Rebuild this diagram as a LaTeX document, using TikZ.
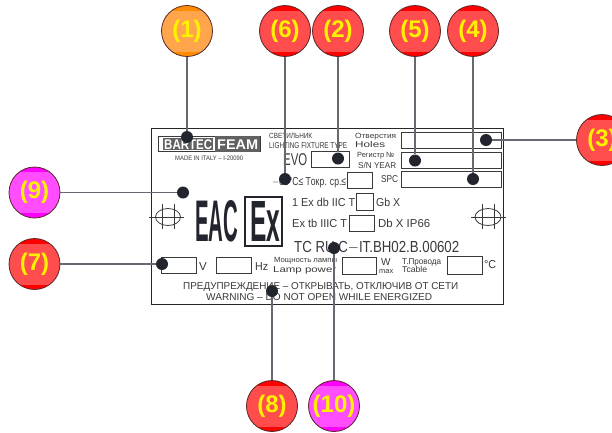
\documentclass[tikz,border=0pt]{standalone}
\usepackage{fontspec}
\usepackage{graphicx}
\setmainfont{Liberation Sans}

\definecolor{inkgrey}{HTML}{3A3A3A}
\definecolor{dotblack}{HTML}{22252E}
\definecolor{leadgrey}{HTML}{666A70}
\definecolor{ringdark}{HTML}{5A2A2A}
\definecolor{redband}{HTML}{FF0000}
\definecolor{redface}{HTML}{FF4D4D}
\definecolor{orangeband}{HTML}{FF8C00}
\definecolor{orangeface}{HTML}{FFA64D}
\definecolor{pinkband}{HTML}{FF00FF}
\definecolor{pinkface}{HTML}{FF4DFF}

\newcommand{\squeezed}[2]{\resizebox{#1pt}{\height}{#2}}

\tikzset{
	callout/.style n args={2}{circle, draw=ringdark, line width=.8pt, fill=#1, minimum size=51pt,
		inner sep=0pt, text=yellow, font=\fontsize{24}{24}\selectfont\bfseries,
		path picture={\fill[#2] ([yshift=-20.5pt]path picture bounding box.center) ++(-30pt,0) rectangle ++(60pt,41pt);}},
	redcallout/.style={callout={redband}{redface}},
	orangecallout/.style={callout={orangeband}{orangeface}},
	pinkcallout/.style={callout={pinkband}{pinkface}},
	target/.style={circle, fill=dotblack, minimum size=12pt, inner sep=0pt},
	lead/.style={draw=leadgrey, line width=1.1pt},
	plateline/.style={draw=inkgrey, line width=.8pt},
	logopatch/.style={fill=inkgrey!80},
	platetext/.style={anchor=base west, inner sep=0pt, text=inkgrey},
	tiny/.style={platetext, font=\fontsize{7.5}{7.5}\selectfont},
	small/.style={platetext, font=\fontsize{8.5}{8.5}\selectfont},
	mid/.style={platetext, font=\fontsize{11.5}{11.5}\selectfont},
	large/.style={platetext, font=\fontsize{17}{17}\selectfont},
}

\begin{document}
\begin{tikzpicture}[x=1pt, y=-1pt]
	\clip (0,0) rectangle (612,432);
	\fill[white] (0,0) rectangle (612,432);

		%plate
	\draw[draw=black!85, line width=1pt] (151,128) rectangle (503,304);

		%logo
	\draw[plateline] (158,136) rectangle (260,151.5);
	\fill[logopatch] (163,138) rectangle (213,150);
	\fill[logopatch] (215,136) rectangle (260,151.5);
	\node[platetext, text=white, font=\fontsize{14}{14}\selectfont\bfseries] (bartec) at (164,149) {\squeezed{48}{BARTEC}};
	\node[platetext, text=white, font=\fontsize{14}{14}\selectfont\bfseries] (feam) at (217,149) {\squeezed{41}{FEAM}};
	\node[tiny, font=\fontsize{6.5}{6.5}\selectfont] (made) at (175,160) {\squeezed{68}{MADE IN ITALY -- I-20090}};

		%upper text
	\node[tiny] (lampru) at (269,138.5) {\squeezed{43}{СВЕТИЛЬНИК}};
	\node[small] (lampen) at (269,148) {\squeezed{78}{LIGHTING FIXTURE TYPE}};
	\node[tiny] (holesru) at (355,138.5) {\squeezed{41}{Отверстия}};
	\node[small] (holesen) at (355,147) {\squeezed{30}{Holes}};
	\node[tiny] (snru) at (357,157.5) {\squeezed{37}{Регистр №}};
	\node[small] (snen) at (358,168) {\squeezed{38}{S/N YEAR}};
	\node[large] (evo) at (283,165.5) {\squeezed{24}{EVO}};
	\node[mid] (range) at (272,185) {\squeezed{74}{$-$60°C≤ Tокр. ср.≤}};
	\node[small, font=\fontsize{10}{10}\selectfont] (spc) at (381,182) {\squeezed{17}{SPC}};

		%boxes
	\draw[plateline] (311,151) rectangle (349,167);
	\draw[plateline] (401,132) rectangle (501,148);
	\draw[plateline] (401,152) rectangle (501,168);
	\draw[plateline] (401,171) rectangle (501,187);
	\draw[plateline] (347,172) rectangle (372,188);
	\draw[plateline] (356,193) rectangle (373,210);
	\draw[plateline] (349,215) rectangle (374,231);
	\draw[plateline] (161,257) rectangle (196,273);
	\draw[plateline] (216,257) rectangle (251,273);
	\draw[plateline] (342,257) rectangle (376,274);
	\draw[plateline] (447,256) rectangle (482,274);

		%marking
	\node[mid] (exdb) at (292,206) {\squeezed{63}{1  Ex db IIC T}};
	\node[mid] (gb) at (376,206) {\squeezed{24}{Gb  X}};
	\node[mid] (extb) at (292,227) {\squeezed{55}{Ex tb IIIC T}};
	\node[mid] (db) at (378,227) {\squeezed{52}{Db  X  IP66}};
	\node[large, font=\fontsize{16}{16}\selectfont] (cert) at (294,252) {\squeezed{165}{TC  RU C$-$IT.BH02.B.00602}};

		%eac and ex marks
	\node[platetext, anchor=north west, text=dotblack, font=\bfseries] (eac) at (195,200) {\resizebox{43pt}{41pt}{EAC}};
	\draw[draw=dotblack, line width=1.8pt] (245,197) rectangle (282,246);
	\node[platetext, anchor=north west, text=dotblack, font=\bfseries] (ex) at (250,201) {\resizebox{30pt}{40pt}{Ex}};

		%fixing holes
	\draw[plateline] (162,204) -- (162,229);
	\draw[plateline] (174,204) -- (174,229);
	\draw[plateline] (168,217) ellipse (12.5 and 8.5);
	\draw[plateline] (149,217) -- (184,217);
	\draw[plateline] (482,204) -- (482,229);
	\draw[plateline] (494,204) -- (494,229);
	\draw[plateline] (488,217) ellipse (13 and 8.5);
	\draw[plateline] (471,217) -- (506,217);

		%lower row
	\node[mid] (volt) at (199,270) {V};
	\node[mid] (hertz) at (255,270) {\squeezed{13}{Hz}};
	\node[tiny] (powerru) at (274,262) {\squeezed{63}{Мощность лампы}};
	\node[small] (poweren) at (273,272) {\squeezed{63}{Lamp power}};
	\node[mid, font=\fontsize{10}{10}\selectfont] (watt) at (381,265) {W};
	\node[tiny] (maxi) at (379,273) {\squeezed{14}{max}};
	\node[small] (cableru) at (402,264) {\squeezed{39}{Т.Провода}};
	\node[small] (cableen) at (402,272) {\squeezed{25}{Tcable}};
	\node[mid] (deg) at (484,268) {\squeezed{12}{°C}};
	\node[mid, font=\fontsize{10}{10}\selectfont] (warnru) at (183,289.5) {\squeezed{275}{ПРЕДУПРЕЖДЕНИЕ -- ОТКРЫВАТЬ, ОТКЛЮЧИВ ОТ СЕТИ}};
	\node[mid, font=\fontsize{10}{10}\selectfont] (warnen) at (206,300) {\squeezed{226}{WARNING -- DO NOT OPEN WHILE ENERGIZED}};

		%targets
	\node[target] (t1) at (187,137) {};
	\node[target] (t2) at (338,158.5) {};
	\node[target] (t3) at (486,140) {};
	\node[target] (t4) at (473,179) {};
	\node[target] (t5) at (415,160.5) {};
	\node[target] (t6) at (285,179) {};
	\node[target] (t7) at (162,264) {};
	\node[target] (t8) at (272,291) {};
	\node[target] (t9) at (183,192.5) {};
	\node[target] (t10) at (334,248) {};

		%callouts
	\node[orangecallout] (c1) at (187,31) {(1)};
	\node[redcallout] (c6) at (285,31) {(6)};
	\node[redcallout] (c2) at (338,31) {(2)};
	\node[redcallout] (c5) at (415,31) {(5)};
	\node[redcallout] (c4) at (473,31) {(4)};
	\node[redcallout] (c3) at (602,140) {(3)};
	\node[pinkcallout] (c9) at (34.5,192.5) {(9)};
	\node[redcallout] (c7) at (34.5,264) {(7)};
	\node[redcallout] (c8) at (272,406) {(8)};
	\node[pinkcallout] (c10) at (334,406) {(10)};

		%leads
	\draw[lead] (c1) -- (t1);
	\draw[lead] (c2) -- (t2);
	\draw[lead] (c3) -- (t3);
	\draw[lead] (c4) -- (t4);
	\draw[lead] (c5) -- (t5);
	\draw[lead] (c6) -- (t6);
	\draw[lead] (c7) -- (t7);
	\draw[lead] (c8) -- (t8);
	\draw[lead] (c9) -- (t9);
	\draw[lead] (c10) -- (t10);
\end{tikzpicture}
\end{document}
